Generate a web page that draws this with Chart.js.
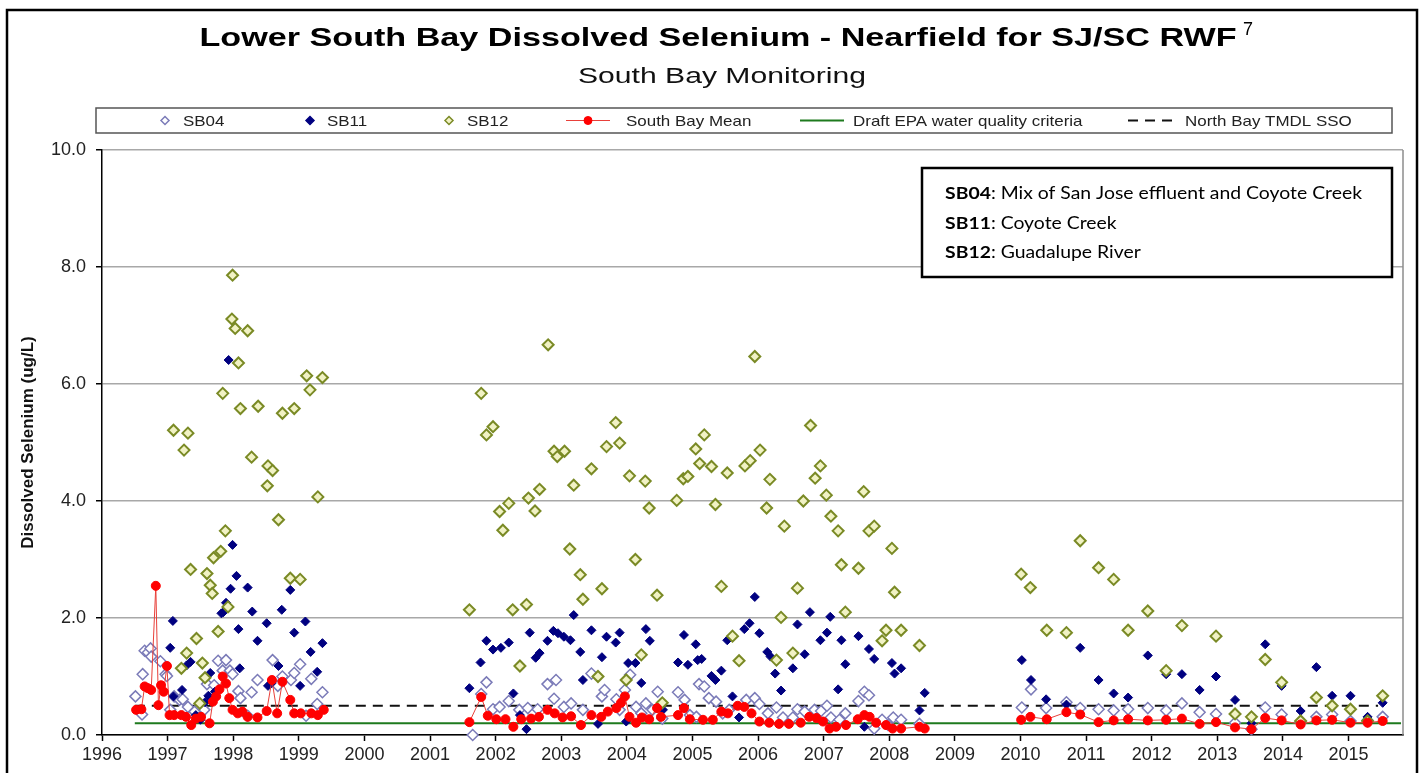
<!DOCTYPE html>
<html>
<head>
<meta charset="utf-8">
<title>Lower South Bay Dissolved Selenium</title>
<script src="https://cdn.jsdelivr.net/npm/chart.js"></script>
<style>
  html, body { margin: 0; padding: 0; background: #fff; }
  #wrap { width: 1424px; height: 773px; }
</style>
</head>
<body>
<div id="wrap"><canvas id="chart" width="1424" height="773"></canvas></div>
<script>
// axis ticks
const yearTicks = [1996, 1997, 1998, 1999, 2000, 2001, 2002, 2003, 2004, 2005,
    2006, 2007, 2008, 2009, 2010, 2011, 2012, 2013, 2014, 2015];
const valueTicks = [0, 2, 4, 6, 8, 10];

// SB04 - Mix of San Jose effluent and Coyote Creek
const sb04Year = [
    1996.51, 1996.61, 1996.62, 1996.65, 1996.70, 1996.74, 1996.75, 1996.89, 1996.97, 1996.99,
    1997.04, 1997.10, 1997.18, 1997.23, 1997.31, 1997.41, 1997.56, 1997.60, 1997.71, 1997.77,
    1997.84, 1997.89, 1997.95, 1997.99, 1998.08, 1998.11, 1998.22, 1998.28, 1998.37, 1998.60,
    1998.68, 1998.75, 1998.88, 1998.93, 1999.02, 1999.11, 1999.19, 1999.28, 1999.36,
    2001.65, 2001.78, 2001.86, 2001.96, 2002.06, 2002.20, 2002.36, 2002.49, 2002.64, 2002.79,
    2002.89, 2002.92, 2003.04, 2003.15, 2003.33, 2003.46, 2003.62, 2003.66, 2003.84, 2003.89,
    2003.97, 2004.05, 2004.14, 2004.22, 2004.29, 2004.39, 2004.47, 2004.54, 2004.78, 2004.88,
    2004.96, 2005.06, 2005.10, 2005.18, 2005.25, 2005.36, 2005.46, 2005.56, 2005.82, 2005.95,
    2006.02, 2006.15, 2006.28, 2006.38, 2006.53, 2006.60, 2006.71, 2006.86, 2006.96, 2007.05,
    2007.11, 2007.24, 2007.33, 2007.53, 2007.62, 2007.69, 2007.77, 2007.89, 2007.98, 2008.06,
    2008.18, 2008.46,
    2010.02, 2010.16, 2010.39, 2010.70, 2010.91, 2011.19, 2011.42, 2011.64, 2011.94, 2012.22,
    2012.46, 2012.73, 2012.98, 2013.27, 2013.52, 2013.73, 2013.98, 2014.27, 2014.51, 2014.75,
    2015.03, 2015.29, 2015.52
];
const sb04Value = [
    0.66, 0.35, 1.04, 1.44, 1.41, 1.48, 1.34, 1.26, 1.04, 1.01,
    0.43, 0.66, 0.60, 0.61, 0.48, 0.40, 0.43, 0.87, 0.85, 1.27,
    1.10, 1.28, 1.10, 1.04, 0.75, 0.63, 0.33, 0.73, 0.94, 1.28,
    0.84, 1.00, 0.94, 1.06, 1.21, 0.33, 0.96, 0.53, 0.73,
    0.00, 0.70, 0.90, 0.44, 0.48, 0.58, 0.43, 0.46, 0.44, 0.87,
    0.62, 0.94, 0.48, 0.54, 0.43, 1.05, 0.66, 0.77, 0.61, 0.43,
    0.77, 1.03, 0.48, 0.37, 0.54, 0.43, 0.74, 0.28, 0.73, 0.60,
    0.34, 0.31, 0.87, 0.83, 0.63, 0.57, 0.37, 0.43, 0.60, 0.63,
    0.53, 0.37, 0.47, 0.30, 0.30, 0.44, 0.40, 0.43, 0.41, 0.50,
    0.30, 0.26, 0.37, 0.58, 0.74, 0.68, 0.11, 0.26, 0.17, 0.30,
    0.26, 0.19,
    0.47, 0.78, 0.46, 0.56, 0.46, 0.44, 0.42, 0.44, 0.46, 0.42,
    0.54, 0.39, 0.36, 0.21, 0.10, 0.47, 0.35, 0.22, 0.31, 0.35,
    0.24, 0.25, 0.31
];

// SB11 - Coyote Creek
const sb11Year = [
    1997.04, 1997.08, 1997.09, 1997.22, 1997.29, 1997.35, 1997.43, 1997.50, 1997.57, 1997.62,
    1997.65, 1997.72, 1997.82, 1997.85, 1997.89, 1997.93, 1997.96, 1997.99, 1998.05, 1998.08,
    1998.10, 1998.22, 1998.29, 1998.37, 1998.51, 1998.53, 1998.58, 1998.69, 1998.74, 1998.87,
    1998.93, 1999.02, 1999.10, 1999.18, 1999.28, 1999.36,
    2001.60, 2001.77, 2001.86, 2001.96, 2002.08, 2002.20, 2002.27, 2002.37, 2002.47, 2002.52,
    2002.61, 2002.67, 2002.79, 2002.88, 2002.95, 2003.04, 2003.14, 2003.19, 2003.29, 2003.33,
    2003.46, 2003.56, 2003.62, 2003.69, 2003.83, 2003.89, 2003.99, 2004.02, 2004.13, 2004.22,
    2004.29, 2004.35, 2004.55, 2004.78, 2004.87, 2004.93, 2005.05, 2005.08, 2005.14, 2005.29,
    2005.35, 2005.44, 2005.53, 2005.61, 2005.71, 2005.79, 2005.87, 2005.95, 2006.02, 2006.14,
    2006.19, 2006.26, 2006.35, 2006.53, 2006.60, 2006.71, 2006.79, 2006.95, 2007.05, 2007.10,
    2007.22, 2007.27, 2007.33, 2007.53, 2007.62, 2007.69, 2007.77, 2008.04, 2008.08, 2008.18,
    2008.46, 2008.54,
    2010.02, 2010.16, 2010.39, 2010.70, 2010.91, 2011.19, 2011.42, 2011.64, 2011.94, 2012.22,
    2012.46, 2012.73, 2012.98, 2013.27, 2013.52, 2013.73, 2013.98, 2014.27, 2014.51, 2014.75,
    2015.03, 2015.29, 2015.52
];
const sb11Value = [
    1.49, 1.95, 0.66, 0.77, 1.19, 1.25, 0.34, 0.26, 0.56, 0.67,
    1.06, 0.74, 2.08, 2.10, 2.26, 6.41, 2.50, 3.25, 2.72, 1.81,
    1.14, 2.52, 2.11, 1.61, 1.91, 0.84, 0.88, 1.18, 2.14, 2.48,
    1.75, 0.84, 1.94, 1.42, 1.08, 1.57,
    0.80, 1.24, 1.61, 1.46, 1.49, 1.58, 0.71, 0.34, 0.10, 1.75,
    1.32, 1.40, 1.61, 1.78, 1.74, 1.68, 1.62, 2.05, 1.42, 0.94,
    1.79, 0.19, 1.33, 1.68, 1.58, 1.75, 0.23, 1.23, 1.23, 0.89,
    1.81, 1.61, 0.43, 1.24, 1.71, 1.20, 1.55, 1.28, 1.30, 1.01,
    0.94, 1.10, 1.62, 0.66, 0.30, 1.81, 1.91, 2.36, 1.74, 1.42,
    1.34, 1.05, 0.76, 1.14, 1.89, 1.38, 2.10, 1.62, 1.75, 2.02,
    0.78, 1.62, 1.21, 1.69, 0.14, 1.47, 1.30, 1.23, 1.05, 1.14,
    0.42, 0.72,
    1.28, 0.94, 0.61, 0.52, 1.49, 0.94, 0.71, 0.64, 1.36, 1.04,
    1.04, 0.77, 1.00, 0.60, 0.20, 1.55, 0.84, 0.41, 1.16, 0.67,
    0.67, 0.31, 0.55
];

// SB12 - Guadalupe River
const sb12Year = [
    1997.09, 1997.21, 1997.25, 1997.29, 1997.31, 1997.35, 1997.44, 1997.49, 1997.53, 1997.57,
    1997.60, 1997.65, 1997.68, 1997.70, 1997.77, 1997.81, 1997.84, 1997.88, 1997.92, 1997.98,
    1997.99, 1998.03, 1998.08, 1998.11, 1998.22, 1998.28, 1998.38, 1998.52, 1998.53, 1998.60,
    1998.69, 1998.75, 1998.87, 1998.93, 1999.02, 1999.12, 1999.17, 1999.29, 1999.36,
    2001.60, 2001.78, 2001.86, 2001.96, 2002.06, 2002.11, 2002.20, 2002.26, 2002.37, 2002.47,
    2002.50, 2002.60, 2002.67, 2002.80, 2002.89, 2002.94, 2003.05, 2003.13, 2003.19, 2003.29,
    2003.33, 2003.46, 2003.56, 2003.62, 2003.69, 2003.83, 2003.89, 2003.99, 2004.04, 2004.13,
    2004.22, 2004.28, 2004.34, 2004.46, 2004.54, 2004.76, 2004.86, 2004.93, 2005.05, 2005.11,
    2005.18, 2005.29, 2005.35, 2005.44, 2005.53, 2005.61, 2005.71, 2005.80, 2005.88, 2005.95,
    2006.03, 2006.13, 2006.18, 2006.28, 2006.35, 2006.40, 2006.53, 2006.60, 2006.69, 2006.80,
    2006.87, 2006.95, 2007.04, 2007.11, 2007.22, 2007.27, 2007.33, 2007.53, 2007.61, 2007.69,
    2007.77, 2007.89, 2007.95, 2008.04, 2008.08, 2008.18, 2008.46,
    2010.01, 2010.15, 2010.40, 2010.70, 2010.91, 2011.19, 2011.42, 2011.64, 2011.94, 2012.22,
    2012.46, 2012.98, 2013.27, 2013.52, 2013.73, 2013.98, 2014.27, 2014.51, 2014.75, 2015.03,
    2015.29, 2015.52
];
const sb12Value = [
    5.21, 1.14, 4.87, 1.40, 5.16, 2.83, 1.65, 0.54, 1.23, 0.98,
    2.76, 2.56, 2.42, 3.03, 1.77, 3.14, 5.84, 3.49, 2.19, 7.11,
    7.86, 6.95, 6.36, 5.58, 6.91, 4.75, 5.62, 4.26, 4.60, 4.52,
    3.68, 5.50, 2.68, 5.58, 2.66, 6.14, 5.90, 4.07, 6.11,
    2.14, 5.84, 5.13, 5.27, 3.82, 3.50, 3.96, 2.14, 1.18, 2.23,
    4.05, 3.83, 4.20, 6.67, 4.85, 4.76, 4.85, 3.18, 4.27, 2.74,
    2.32, 4.55, 1.00, 2.50, 4.93, 5.34, 4.99, 0.94, 4.43, 3.00,
    1.37, 4.34, 3.88, 2.39, 0.55, 4.01, 4.38, 4.42, 4.89, 4.64,
    5.13, 4.59, 3.94, 2.54, 4.48, 1.69, 1.27, 4.60, 4.69, 6.47,
    4.87, 3.88, 4.37, 1.28, 2.01, 3.57, 1.40, 2.51, 4.00, 5.29,
    4.39, 4.60, 4.10, 3.74, 3.49, 2.91, 2.10, 2.85, 4.16, 3.49,
    3.57, 1.61, 1.79, 3.19, 2.44, 1.79, 1.53,
    2.75, 2.52, 1.79, 1.75, 3.32, 2.86, 2.66, 1.79, 2.12, 1.10,
    1.87, 1.69, 0.36, 0.31, 1.29, 0.90, 0.24, 0.64, 0.50, 0.44,
    0.24, 0.67
];

// South Bay Mean (null = no sampling, line is broken)
const meanYear = [
    1996.52, 1996.60, 1996.65, 1996.70, 1996.75, 1996.82, 1996.86, 1996.90, 1996.94, 1996.99,
    1997.03, 1997.10, 1997.21, 1997.28, 1997.36, 1997.43, 1997.51, 1997.64, 1997.69, 1997.74,
    1997.79, 1997.84, 1997.89, 1997.94, 1997.99, 1998.07, 1998.14, 1998.22, 1998.37, 1998.51,
    1998.59, 1998.67, 1998.75, 1998.87, 1998.93, 1999.03, 1999.19, 1999.29, 1999.38,
    2000.5,
    2001.60, 2001.78, 2001.88, 2002.01, 2002.15, 2002.27, 2002.39, 2002.54, 2002.66, 2002.79,
    2002.90, 2003.02, 2003.15, 2003.30, 2003.46, 2003.61, 2003.71, 2003.84, 2003.91, 2003.97,
    2004.04, 2004.14, 2004.23, 2004.34, 2004.46, 2004.52, 2004.78, 2004.87, 2004.96, 2005.16,
    2005.31, 2005.44, 2005.54, 2005.69, 2005.79, 2005.90, 2006.02, 2006.17, 2006.32, 2006.47,
    2006.65, 2006.78, 2006.89, 2006.99, 2007.09, 2007.19, 2007.34, 2007.52, 2007.62, 2007.70,
    2007.80, 2007.95, 2008.05, 2008.18, 2008.46, 2008.54,
    2009.2,
    2010.01, 2010.15, 2010.40, 2010.70, 2010.91, 2011.19, 2011.42, 2011.64, 2011.94, 2012.22,
    2012.46, 2012.73, 2012.98, 2013.27, 2013.52, 2013.73, 2013.98, 2014.27, 2014.51, 2014.75,
    2015.03, 2015.29, 2015.52
];
const meanValue = [
    0.43, 0.44, 0.83, 0.80, 0.77, 2.55, 0.51, 0.85, 0.74, 1.18,
    0.34, 0.34, 0.34, 0.31, 0.17, 0.28, 0.31, 0.20, 0.57, 0.66,
    0.78, 1.00, 0.88, 0.63, 0.43, 0.37, 0.40, 0.31, 0.30, 0.41,
    0.94, 0.37, 0.91, 0.60, 0.37, 0.37, 0.37, 0.34, 0.43,
    null,
    0.22, 0.65, 0.33, 0.27, 0.27, 0.14, 0.27, 0.28, 0.31, 0.43,
    0.37, 0.30, 0.32, 0.17, 0.34, 0.31, 0.40, 0.46, 0.55, 0.66,
    0.31, 0.21, 0.30, 0.27, 0.46, 0.31, 0.34, 0.46, 0.27, 0.26,
    0.26, 0.40, 0.37, 0.50, 0.48, 0.37, 0.23, 0.21, 0.19, 0.19,
    0.21, 0.31, 0.29, 0.23, 0.11, 0.14, 0.17, 0.27, 0.34, 0.31,
    0.21, 0.17, 0.11, 0.11, 0.14, 0.11,
    null,
    0.26, 0.31, 0.27, 0.39, 0.35, 0.22, 0.25, 0.27, 0.25, 0.26,
    0.28, 0.19, 0.22, 0.13, 0.10, 0.29, 0.25, 0.18, 0.25, 0.26,
    0.21, 0.21, 0.24
];

// reference lines
const epaYear = [1996.5, 2015.8];
const epaValue = [0.2, 0.2];
const ssoYear = [1996.5, 2015.45];
const ssoValue = [0.5, 0.5];

const pts = (xs, ys) => xs.map((x, i) => ({ x: x, y: ys[i] }));

const FONT = "'Liberation Sans', Arial, sans-serif";
Chart.defaults.font.family = FONT;

// draw text squeezed/stretched to a given width (the source image is a bit wide)
function fitText(ctx, text, x, y, font, width, align) {
    ctx.save();
    ctx.font = font;
    const k = width / ctx.measureText(text).width;
    ctx.translate(x, y);
    ctx.scale(k, 1);
    ctx.textAlign = align;
    ctx.textBaseline = "middle";
    ctx.fillText(text, 0, 0);
    ctx.restore();
}

const legendSymbolX = [165, 310, 449, 588, 822, 1150];
const legendTextX = [183, 327, 467, 626, 853, 1185];

const decor = {
    id: "decor",
    beforeDraw(chart) {
        const ctx = chart.ctx;
        ctx.save();
        ctx.fillStyle = "#fff";
        ctx.fillRect(0, 0, chart.width, chart.height);
        ctx.restore();
    },
    beforeDatasetsDraw(chart) {
        const { ctx, chartArea: a } = chart;
        ctx.save();
        ctx.strokeStyle = "#8c8c8c";
        ctx.lineWidth = 1.5;
        ctx.beginPath();
        ctx.moveTo(a.right, a.top);
        ctx.lineTo(a.right, a.bottom);
        ctx.stroke();
        ctx.restore();
    },
    afterDraw(chart) {
        const ctx = chart.ctx;
        ctx.save();

        // outer frame
        ctx.strokeStyle = "#000";
        ctx.lineWidth = 2.5;
        ctx.strokeRect(7, 10, 1410, 800);

        // titles
        ctx.fillStyle = "#000";
        fitText(ctx, "Lower South Bay Dissolved Selenium - Nearfield for SJ/SC RWF",
            718, 39, "bold 26px " + FONT, 1037, "center");
        ctx.font = "18px " + FONT;
        ctx.textAlign = "left";
        ctx.textBaseline = "middle";
        ctx.fillText("7", 1243, 30);
        ctx.fillStyle = "#111";
        fitText(ctx, "South Bay Monitoring", 722, 77, "22px " + FONT, 288, "center");

        // legend
        ctx.strokeStyle = "#555";
        ctx.lineWidth = 1.5;
        ctx.strokeRect(96, 108, 1296, 25);
        const ly = 120.5;
        const legendFont = "15px " + FONT;
        chart.data.datasets.forEach((ds, i) => {
            const sx = legendSymbolX[i];
            ctx.save();
            if (ds.showLine) {
                ctx.strokeStyle = ds.borderColor;
                ctx.lineWidth = ds.borderWidth;
                ctx.setLineDash(ds.borderDash || []);
                ctx.beginPath();
                ctx.moveTo(sx - 22, ly);
                ctx.lineTo(sx + 22, ly);
                ctx.stroke();
                ctx.setLineDash([]);
            }
            if (ds.pointRadius > 0) {
                ctx.fillStyle = ds.pointBackgroundColor;
                ctx.strokeStyle = ds.pointBorderColor;
                Chart.helpers.drawPoint(ctx, {
                    pointStyle: ds.pointStyle, radius: 4, rotation: 0,
                    borderWidth: ds.pointBorderWidth
                }, sx, ly);
            }
            ctx.restore();
            ctx.font = legendFont;
            const w = ctx.measureText(ds.label).width * 1.13;
            ctx.fillStyle = "#222";
            fitText(ctx, ds.label, legendTextX[i], ly + 1, legendFont, w, "left");
        });

        // station description box
        const bx = 922, by = 168, bw = 470, bh = 109;
        ctx.fillStyle = "#fff";
        ctx.fillRect(bx, by, bw, bh);
        ctx.strokeStyle = "#000";
        ctx.lineWidth = 2.5;
        ctx.strokeRect(bx, by, bw, bh);
        const notes = [
            ["SB04", ": Mix of San Jose effluent and Coyote Creek"],
            ["SB11", ": Coyote Creek"],
            ["SB12", ": Guadalupe River"]
        ];
        const boldF = "bold 17px Lato, 'Open Sans', sans-serif";
        const regF = "17px Lato, 'Open Sans', sans-serif";
        ctx.font = boldF;
        const w0 = ctx.measureText(notes[0][0]).width;
        ctx.font = regF;
        const k = 417 / (w0 + ctx.measureText(notes[0][1]).width);
        notes.forEach((n, i) => {
            const y = 194 + i * 29.5;
            ctx.save();
            ctx.translate(945, y);
            ctx.scale(k, 1);
            ctx.fillStyle = "#000";
            ctx.textBaseline = "middle";
            ctx.textAlign = "left";
            ctx.font = boldF;
            ctx.fillText(n[0], 0, 0);
            const wb = ctx.measureText(n[0]).width;
            ctx.font = regF;
            ctx.fillText(n[1], wb, 0);
            ctx.restore();
        });

        ctx.restore();
    }
};

new Chart(document.getElementById("chart"), {
    type: "scatter",
    data: {
        datasets: [
            {
                label: "SB04",
                data: pts(sb04Year, sb04Value),
                pointStyle: "rectRot",
                pointRadius: 5.5,
                pointBorderWidth: 1.5,
                pointBackgroundColor: "#ffffff",
                pointBorderColor: "#7b7bb8",
                borderColor: "#7b7bb8",
                backgroundColor: "#ffffff",
                showLine: false,
                clip: false,
                order: 4
            },
            {
                label: "SB11",
                data: pts(sb11Year, sb11Value),
                pointStyle: "rectRot",
                pointRadius: 4.5,
                pointBorderWidth: 1,
                pointBackgroundColor: "#000080",
                pointBorderColor: "#000080",
                borderColor: "#000080",
                backgroundColor: "#000080",
                showLine: false,
                clip: false,
                order: 3
            },
            {
                label: "SB12",
                data: pts(sb12Year, sb12Value),
                pointStyle: "rectRot",
                pointRadius: 5.5,
                pointBorderWidth: 2,
                pointBackgroundColor: "#f1f2c4",
                pointBorderColor: "#7a8a25",
                borderColor: "#7a8a25",
                backgroundColor: "#f1f2c4",
                showLine: false,
                clip: false,
                order: 2
            },
            {
                label: "South Bay Mean",
                data: pts(meanYear, meanValue),
                showLine: true,
                spanGaps: false,
                borderColor: "#e8403a",
                borderWidth: 1,
                pointStyle: "circle",
                pointRadius: 4.5,
                pointBorderWidth: 1,
                pointBackgroundColor: "#ff0000",
                pointBorderColor: "#ff0000",
                backgroundColor: "#ff0000",
                clip: false,
                order: 1
            },
            {
                label: "Draft EPA water quality criteria",
                data: pts(epaYear, epaValue),
                showLine: true,
                borderColor: "#1e7a1e",
                borderWidth: 2,
                pointRadius: 0,
                order: 5
            },
            {
                label: "North Bay TMDL SSO",
                data: pts(ssoYear, ssoValue),
                showLine: true,
                borderColor: "#111111",
                borderWidth: 2,
                borderDash: [10, 7],
                pointRadius: 0,
                order: 6
            }
        ]
    },
    options: {
        responsive: false,
        devicePixelRatio: 1,
        animation: false,
        events: [],
        layout: { padding: { left: 10, right: 21, top: 150, bottom: 0 } },
        plugins: {
            legend: { display: false },
            title: { display: false },
            tooltip: { enabled: false }
        },
        scales: {
            x: {
                type: "linear",
                min: 1996,
                max: 2015.83,
                afterBuildTicks: s => { s.ticks = yearTicks.map(v => ({ value: v })); },
                afterFit: s => { s.height = 38; },
                grid: { display: true, drawOnChartArea: false, drawTicks: true, tickLength: 6, tickColor: "#000", tickWidth: 1.5 },
                border: { display: true, color: "#000", width: 1.5 },
                ticks: {
                    autoSkip: false, maxRotation: 0, padding: 3, color: "#222",
                    font: { size: 18 },
                    callback: v => String(v)
                }
            },
            y: {
                min: 0,
                max: 10,
                afterBuildTicks: s => { s.ticks = valueTicks.map(v => ({ value: v })); },
                afterFit: s => { s.width = 92; },
                grid: { color: "#a8a8a8", lineWidth: 1.5, tickColor: "#000", tickLength: 6, tickWidth: 1.5 },
                border: { display: true, color: "#000", width: 1.5 },
                ticks: {
                    padding: 10, color: "#222",
                    font: { size: 18 },
                    callback: v => v.toFixed(1)
                },
                title: {
                    display: true,
                    text: "Dissolved Selenium (ug/L)",
                    color: "#111",
                    font: { size: 17, weight: "bold" },
                    padding: { top: 8, bottom: 0 }
                }
            }
        }
    },
    plugins: [decor]
});
</script>
</body>
</html>
